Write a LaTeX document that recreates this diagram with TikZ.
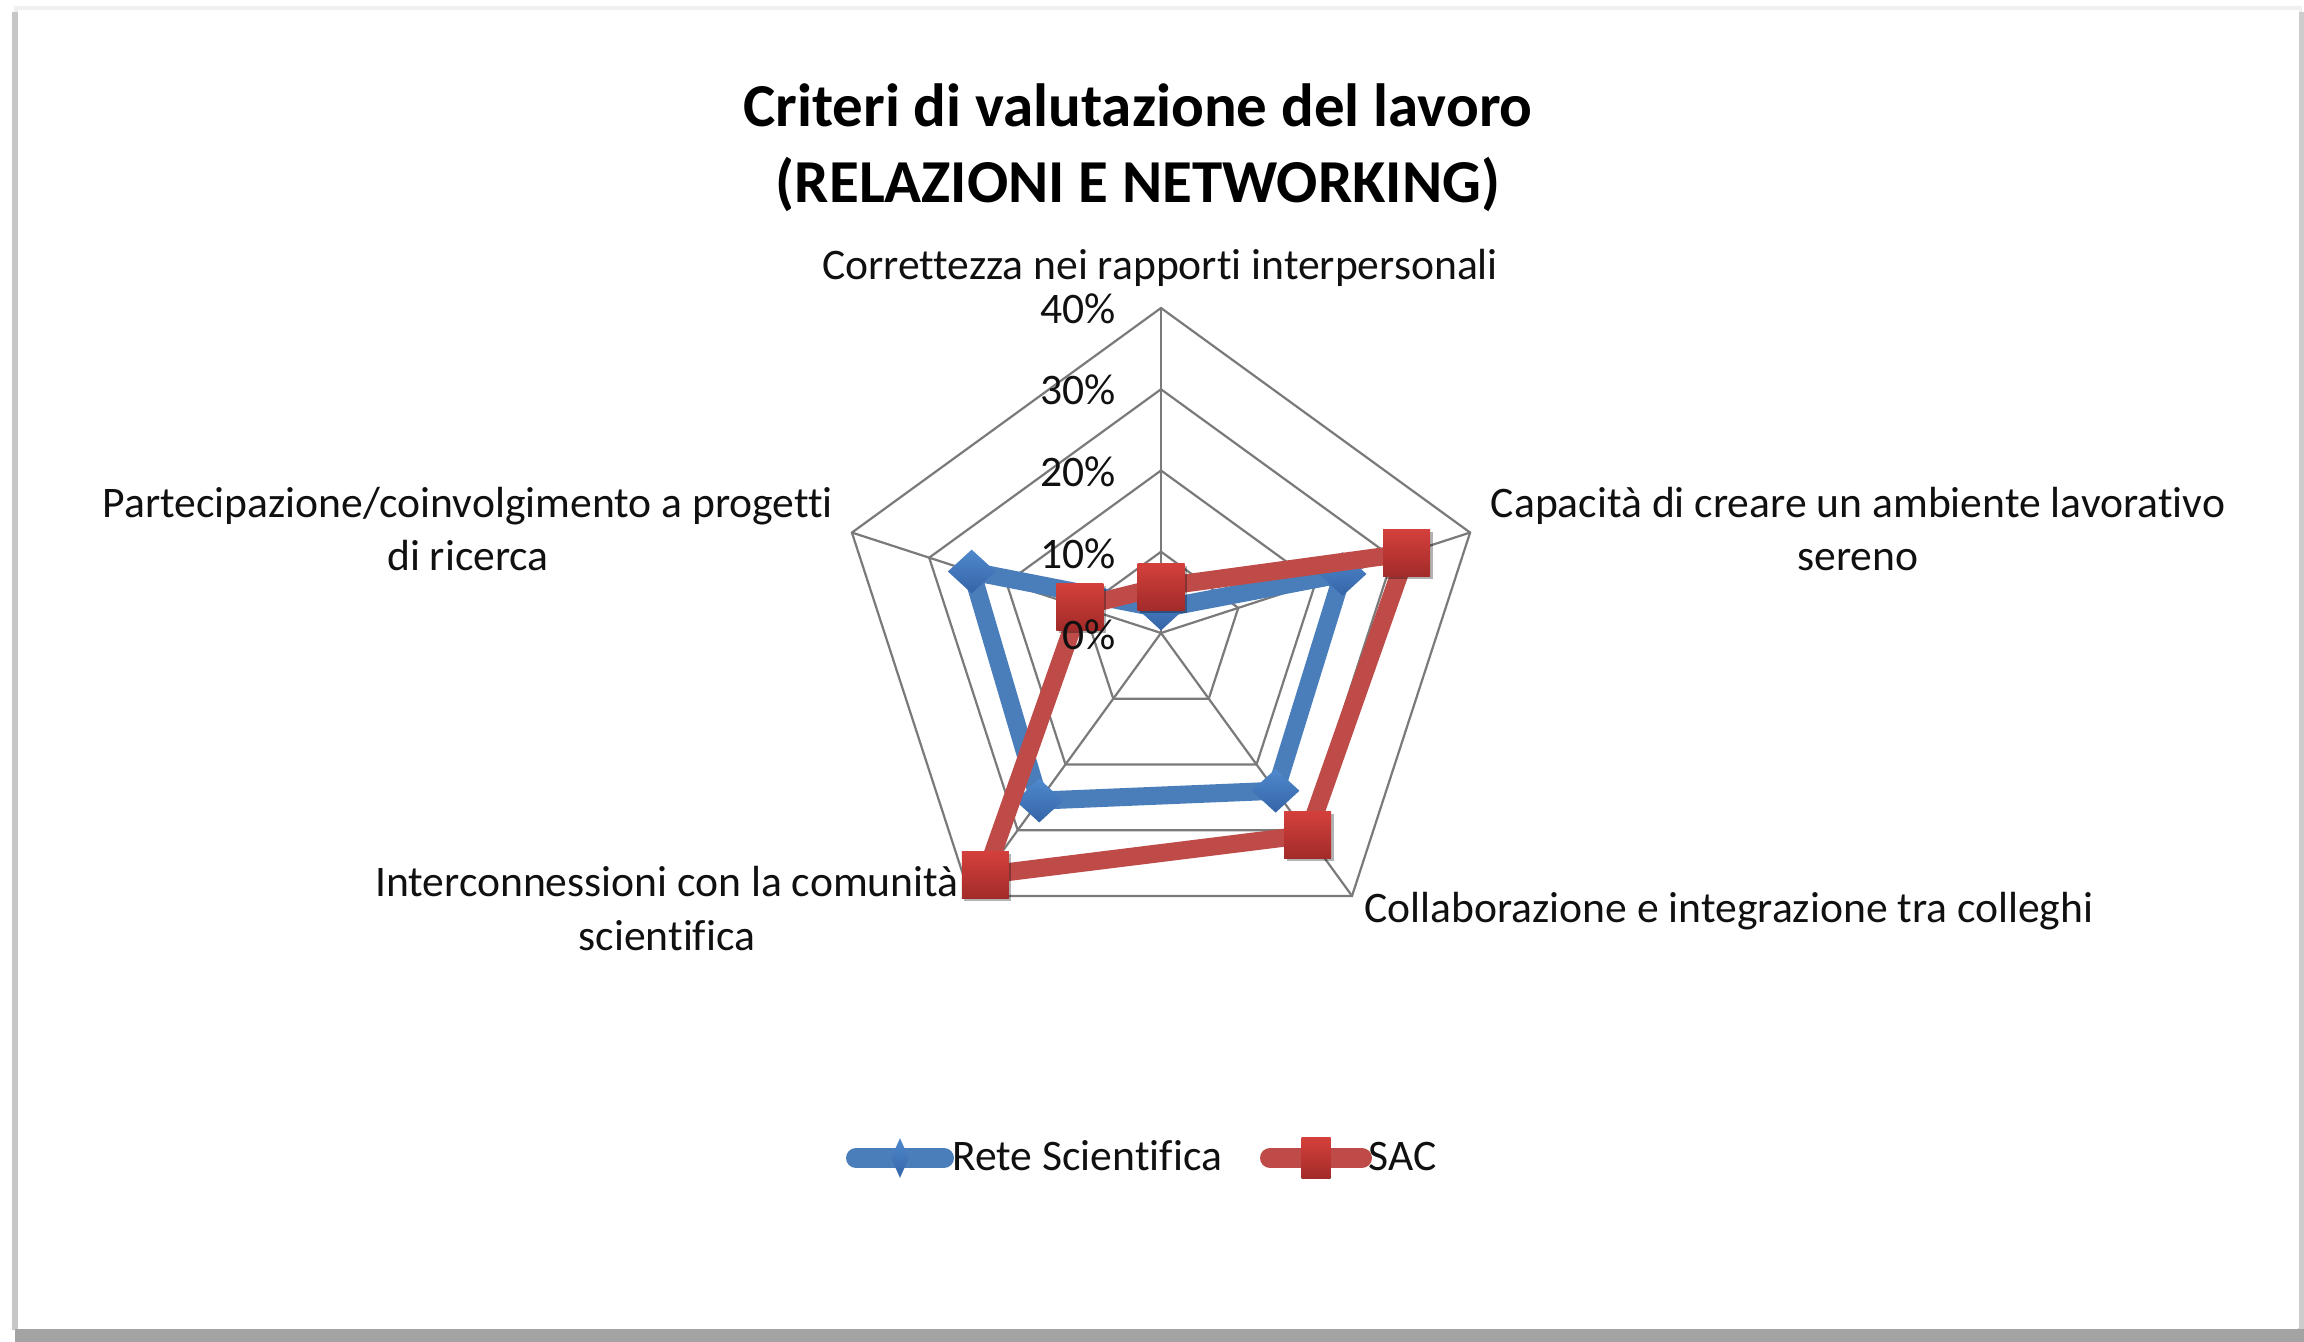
\documentclass[tikz,border=0pt]{standalone}
\usepackage{fontspec}
\setmainfont[Ligatures=NoCommon]{Carlito}
\usetikzlibrary{shapes.geometric,shadows}
\definecolor{gridgray}{HTML}{7A7A7A}
\definecolor{reteblue}{HTML}{4A7EBB}
\definecolor{retetop}{HTML}{4F89CC}
\definecolor{retebot}{HTML}{3564A8}
\definecolor{sacred}{HTML}{BE4B48}
\definecolor{sactop}{HTML}{D4403C}
\definecolor{sacbot}{HTML}{A22B29}
\definecolor{txt}{HTML}{101010}
\begin{document}
\begin{tikzpicture}[x=0.5pt,y=-0.5pt,
  grid/.style={draw=gridgray,line width=1.1pt},
  lbl/.style={font=\fontsize{21.8pt}{26.8pt}\selectfont,text=txt,inner sep=0pt,align=center},
  ttl/.style={font=\fontsize{30.5pt}{38pt}\selectfont\bfseries,text=black,inner sep=0pt,align=center},
  reteline/.style={draw=reteblue,line width=9pt,line join=round},
  sacline/.style={draw=sacred,line width=9pt,line join=round},
  retemark/.style={diamond,inner sep=0pt,minimum width=24pt,minimum height=22pt,top color=retetop,bottom color=retebot,draw=none},
  sacmark/.style={rectangle,inner sep=0pt,minimum width=23.5pt,minimum height=23.5pt,top color=sactop,bottom color=sacbot,draw=none,
     drop shadow={shadow xshift=1.2pt,shadow yshift=-1.2pt,opacity=0.3,fill=black}},
  legline/.style={line width=10pt,line cap=round}
]
% page and card
\fill[white] (0,0) rectangle (2304,1342);
\fill[black!6] (14,6) rectangle (2302,12);
\fill[black!22] (12,12) rectangle (18,1330);
\fill[black!20] (2298,12) rectangle (2304,1330);
\fill[black!36] (15,1329) rectangle (2304,1342);
\fill[white] (18,10) rectangle (2299,1328);
\useasboundingbox (0,0) rectangle (2304,1342);

% title
\node[ttl,anchor=base] (title) at (1138,203) {Criteri di valutazione del lavoro\\(RELAZIONI E NETWORKING)};

\coordinate (O) at (1161,633);
\begin{scope}[shift={(O)}]
  % grid
  \foreach \r in {81.25,162.5,243.75,325}{
    \draw[grid] (-90:\r) -- (-18:\r) -- (54:\r) -- (126:\r) -- (198:\r) -- cycle;
  }
  \foreach \a in {-90,-18,54,126,198}{
    \draw[grid] (0,0) -- (\a:325);
  }
  % data points (8.125 px per %)
  \coordinate (b1) at (-90:{3*8.125});
  \coordinate (b2) at (-18:{23.5*8.125});
  \coordinate (b3) at (54:{24*8.125});
  \coordinate (b4) at (126:{25.5*8.125});
  \coordinate (b5) at (198:{24.5*8.125});
  \coordinate (r1) at (-90:{5.7*8.125});
  \coordinate (r2) at (-18:{31.8*8.125});
  \coordinate (r3) at (54:{30.7*8.125});
  \coordinate (r4) at (126:{36.8*8.125});
  \coordinate (r5) at (198:{10.5*8.125});
\end{scope}

% series
\draw[reteline] (b1) -- (b2) -- (b3) -- (b4) -- (b5) -- cycle;
\foreach \p in {b1,b2,b3,b4,b5}{\node[retemark] (m\p) at (\p) {};}
\draw[sacline] (r1) -- (r2) -- (r3) -- (r4) -- (r5) -- cycle;
\foreach \p in {r1,r2,r3,r4,r5}{\node[sacmark] (m\p) at (\p) {};}

% axis values
\node[lbl,anchor=base east] (v40) at (1116,324) {40\%};
\node[lbl,anchor=base east] (v30) at (1116,405) {30\%};
\node[lbl,anchor=base east] (v20) at (1116,487) {20\%};
\node[lbl,anchor=base east] (v10) at (1116,568) {10\%};
\node[lbl,anchor=base east] (v0) at (1116,649) {0\%};

% category labels
\node[lbl,anchor=base] (c1) at (1160,280) {Correttezza nei rapporti interpersonali};
\node[lbl,anchor=base] (c2) at (1858,571) {Capacità di creare un ambiente lavorativo\\sereno};
\node[lbl,anchor=base] (c3) at (1729,922) {Collaborazione e integrazione tra colleghi};
\node[lbl,anchor=base] (c4) at (667,950) {Interconnessioni con la comunità\\scientifica};
\node[lbl,anchor=base] (c5) at (468,571) {Partecipazione/coinvolgimento a progetti\\di ricerca};

% legend
\coordinate (la) at (856,1158);
\coordinate (lb) at (944,1158);
\draw[legline,reteblue] (la) -- (lb);
\node[diamond,inner sep=0pt,minimum width=9pt,minimum height=20pt,top color=retetop,bottom color=retebot] (ld) at (900,1158) {};
\node[lbl,anchor=base west] (lt1) at (952,1170) {Rete Scientifica};
\coordinate (lc) at (1270,1158);
\coordinate (ldd) at (1362,1158);
\draw[legline,sacred] (lc) -- (ldd);
\node[rectangle,inner sep=0pt,minimum width=14.5pt,minimum height=20.5pt,top color=sactop,bottom color=sacbot] (ls) at (1316,1158) {};
\node[lbl,anchor=base west] (lt2) at (1368,1170) {SAC};
\end{tikzpicture}
\end{document}
